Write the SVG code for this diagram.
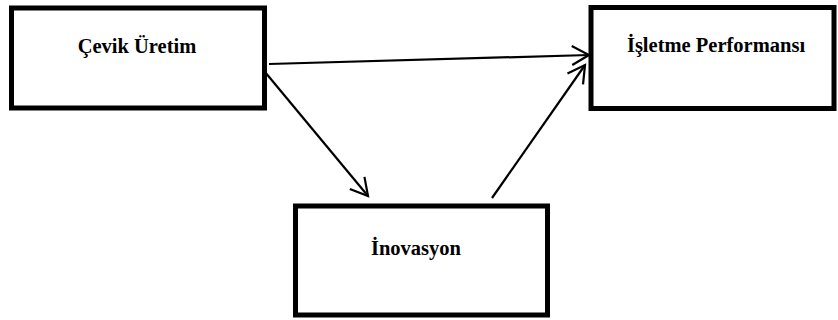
<svg xmlns="http://www.w3.org/2000/svg" width="838" height="320" viewBox="0 0 838 320">
<defs>
<style>
.box{fill:#fff;stroke:#000;stroke-width:5}
.lbl{font-family:"Liberation Serif","Times New Roman",serif;font-weight:bold;font-size:20.5px;fill:#000;text-anchor:middle}
.con{stroke:#000;stroke-width:2.2;fill:none;marker-end:url(#arr)}
</style>
<marker id="arr" markerUnits="userSpaceOnUse" markerWidth="30" markerHeight="30" viewBox="-20 -15 30 30" refX="0" refY="0" orient="auto">
<path d="M-17,-9.5 L0,0 L-17,9.5" fill="none" stroke="#000" stroke-width="2.2"/>
</marker>
</defs>
<rect width="838" height="320" fill="#fff"/>
<g id="cevik-uretim">
<rect class="box" x="11.5" y="8" width="253" height="100"/>
<text class="lbl" x="137" y="53">Çevik Üretim</text>
</g>
<g id="isletme-performansi">
<rect class="box" x="591" y="7.5" width="243" height="101"/>
<text class="lbl" x="716" y="52">İşletme Performansı</text>
</g>
<g id="inovasyon">
<rect class="box" x="295.5" y="206" width="252" height="109"/>
<text class="lbl" x="416" y="255">İnovasyon</text>
</g>
<g id="connectors">
<line class="con" x1="269" y1="64" x2="589" y2="55"/>
<line class="con" x1="265" y1="72" x2="368" y2="196"/>
<line class="con" x1="492" y1="198" x2="585" y2="65"/>
</g>
</svg>
